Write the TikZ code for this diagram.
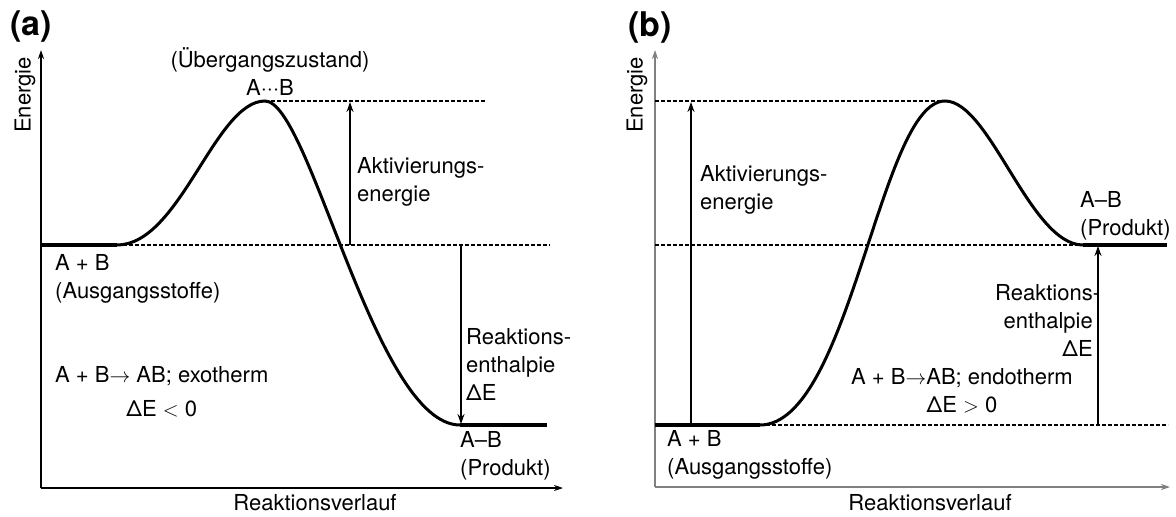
\documentclass[tikz,border=0pt]{standalone}
\usepackage{fontspec}
\setmainfont{TeX Gyre Heros}
\usetikzlibrary{arrows.meta, positioning}

\begin{document}
\begin{tikzpicture}[x=1pt,y=-1pt,
    lbl/.style={font=\fontsize{22}{28}\selectfont, inner sep=0pt},
    tag/.style={font=\fontsize{34}{34}\selectfont\bfseries, inner sep=0pt},
    level/.style={line width=4pt},
    curve/.style={line width=3pt},
    guide/.style={line width=1.8pt, dash pattern=on 4pt off 2pt},
    axis/.style={line width=1.5pt, -{Stealth[length=9pt,width=6pt]}},
    gap/.style={line width=2pt, -{Stealth[length=10pt,width=7pt]}}]
  \useasboundingbox (0,0) rectangle (1176,517);

  % (a) exothermic reaction
  \coordinate (oa) at (41,488);
  \coordinate (ya) at (41,50);
  \coordinate (xa) at (563,488);
  \coordinate (ea0) at (41,245);
  \coordinate (ea1) at (117,245);
  \coordinate (pa) at (265,101);
  \coordinate (fa0) at (460,425);
  \coordinate (fa1) at (547,425);
  \draw[axis] (oa) -- (ya);
  \draw[axis] (oa) -- (xa);

  \draw[guide] (pa) -- (485,101);
  \draw[guide] (ea1) -- (550,245);
  \draw[level] (ea0) -- (ea1);
  \draw[level] (fa0) -- (fa1);
  \draw[curve] (ea1) .. controls (180,245) and (215,101) .. (pa)
                     .. controls (310,101) and (375,425) .. (fa0);

  \draw[gap] (350,245) coordinate (ka0) -- (350,102) coordinate (ka1);
  \draw[gap] (461,245) coordinate (ha0) -- (461,424) coordinate (ha1);

  \node[tag] (taga) at (31,27) {(a)};
  \node[lbl, rotate=90] (enea) at (25,95) {Energie};
  \node[lbl] (verla) at (315,503) {Reaktionsverlauf};
  \node[lbl, align=center] (tsa) at (270,72) {(Übergangszustand)\\A···B};
  \node[lbl, align=left, anchor=west] (akta) at (357,182) {Aktivierungs-\\energie};
  \node[lbl, align=left, anchor=west] (edua) at (55,279) {A + B\\(Ausgangsstoffe)};
  \node[lbl, align=left, anchor=west] (entha) at (466,364) {Reaktions-\\enthalpie\\ΔE};
  \node[lbl, align=left, anchor=west] (proda) at (460,456) {A–B\\(Produkt)};
  \node[lbl, align=center, anchor=west] (exo) at (55,392)
    {A + B$\rightarrow$ AB; exotherm\\[6pt]ΔE $<$ 0};

  % (b) endothermic reaction
  \coordinate (ob) at (655,487);
  \coordinate (yb) at (655,50);
  \coordinate (xb) at (1170,487);
  \coordinate (eb0) at (655,425);
  \coordinate (eb1) at (760,425);
  \coordinate (pb) at (945,101);
  \coordinate (fb0) at (1083,245);
  \coordinate (fb1) at (1167,245);
  \draw[axis, gray] (ob) -- (yb);
  \draw[axis, gray] (ob) -- (xb);

  \draw[guide] (yb |- pb) -- (pb);
  \draw[guide] (yb |- fb0) -- (fb0);
  \draw[guide] (eb1) -- (1168,425);
  \draw[level] (eb0) -- (eb1);
  \draw[level] (fb0) -- (fb1);
  \draw[curve] (eb1) .. controls (850,425) and (880,101) .. (pb)
                     .. controls (990,101) and (1030,245) .. (fb0);

  \draw[gap, line width=2.6pt] (691,425) coordinate (kb0) -- (691,102) coordinate (kb1);
  \draw[gap] (1098,425) coordinate (hb0) -- (1098,246) coordinate (hb1);

  \node[tag] (tagb) at (650,28) {(b)};
  \node[lbl, rotate=90] (eneb) at (637,95) {Energie};
  \node[lbl] (verlb) at (930,503) {Reaktionsverlauf};
  \node[lbl, align=left, anchor=west] (aktb) at (700,190) {Aktivierungs-\\energie};
  \node[lbl, align=left, anchor=west] (edub) at (667,455) {A + B\\(Ausgangsstoffe)};
  \node[lbl, align=right, anchor=east] (enthb) at (1093,320) {Reaktions\rlap{-}\\enthalpie\\ΔE};
  \node[lbl, align=left, anchor=west] (prodb) at (1080,216) {A–B\\(Produkt)};
  \node[lbl, align=center] (endo) at (962,391)
    {A + B$\rightarrow$AB; endotherm\\ΔE $>$ 0};
\end{tikzpicture}
\end{document}
